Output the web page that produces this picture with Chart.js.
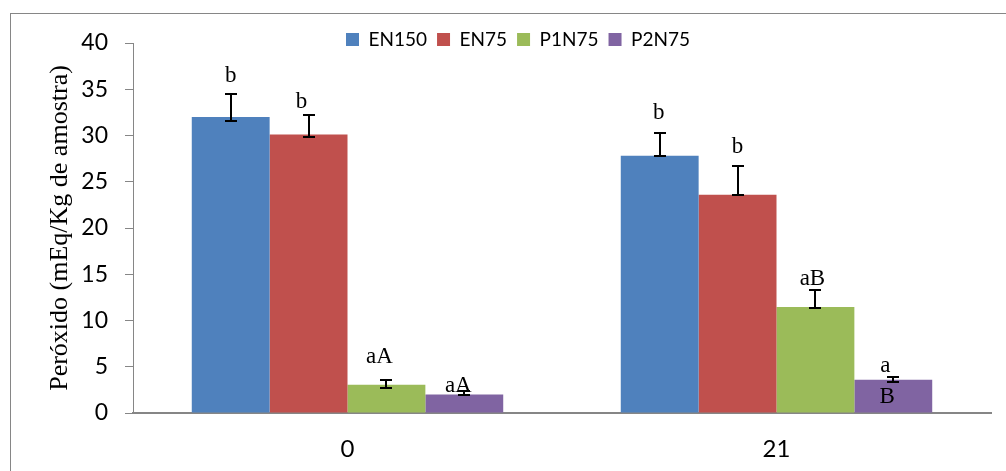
<!DOCTYPE html>
<html>
<head>
<meta charset="utf-8">
<script src="https://cdn.jsdelivr.net/npm/chart.js@4.4.0/dist/chart.umd.min.js"></script>
<style>
  body { margin: 0; background: #fff; }
  #wrap { position: relative; width: 1006px; height: 471px; overflow: hidden; }
  #frame { position: absolute; left: 10px; top: 13px; width: 1100px; height: 600px; border: 1px solid #868686; }
  #chart { position: absolute; left: 0; top: 0; }
</style>
</head>
<body>
<div id="wrap">
  <div id="frame"></div>
  <canvas id="chart" width="1006" height="471"></canvas>
</div>
<script>
// 数据
const days = ['0', '21'];
const seriesNames = ['EN150', 'EN75', 'P1N75', 'P2N75'];
const en150 = [32.0, 27.8];
const en75 = [30.1, 23.6];
const p1n75 = [3.05, 11.45];
const p2n75 = [2.0, 3.6];
// 误差线（上 / 下）
const errPlus = [[2.5, 2.45], [2.15, 3.1], [0.55, 1.85], [0.33, 0.3]];
const errMinus = [[0.4, 0.07], [0.22, 0.05], [0.3, 0.07], [0.1, 0.3]];
// 显著性字母
const letters = [['b', 'b'], ['b', 'b'], ['aA', 'aB'], ['aA', 'a']];
const extraLetters = [[null, null], [null, null], [null, null], [null, 'B']];
const yTicks = [0, 5, 10, 15, 20, 25, 30, 35, 40];

const colors = ['#4F81BD', '#C0504D', '#9BBB59', '#8064A2'];
// 字母位置偏移 [dx, dy]，相对于误差线顶端（像素）
const letterOffsets = [
  [[0, -12], [-1, -14]],
  [[-7, -7], [0, -13]],
  [[-7, -17], [-3, -5]],
  [[-6, 1], [-8, -5]]
];
const extraOffsets = [[null, null], [null, null], [null, null], [null, [-6, 26]]];

const values = [en150, en75, p1n75, p2n75];

// 误差线插件
const errorBars = {
  id: 'errorBars',
  afterDatasetsDraw(chart) {
    const ctx = chart.ctx;
    const y = chart.scales.y;
    ctx.save();
    ctx.strokeStyle = '#000';
    ctx.lineWidth = 2;
    chart.data.datasets.forEach((ds, i) => {
      const meta = chart.getDatasetMeta(i);
      meta.data.forEach((bar, j) => {
        const v = ds.data[j];
        const top = Math.round(y.getPixelForValue(v + errPlus[i][j]));
        const bot = Math.round(y.getPixelForValue(v - errMinus[i][j]));
        const x = Math.round(bar.x);
        ctx.beginPath();
        ctx.moveTo(x, top); ctx.lineTo(x, bot);
        ctx.moveTo(x - 6, top); ctx.lineTo(x + 6, top);
        ctx.moveTo(x - 6, bot); ctx.lineTo(x + 6, bot);
        ctx.stroke();
      });
    });
    ctx.restore();
  }
};

// 字母标注插件
const letterLabels = {
  id: 'letterLabels',
  afterDatasetsDraw(chart) {
    const ctx = chart.ctx;
    const y = chart.scales.y;
    ctx.save();
    ctx.fillStyle = '#000';
    ctx.font = '23px "Liberation Serif", "DejaVu Serif", serif';
    ctx.textAlign = 'center';
    ctx.textBaseline = 'alphabetic';
    chart.data.datasets.forEach((ds, i) => {
      const meta = chart.getDatasetMeta(i);
      meta.data.forEach((bar, j) => {
        const top = y.getPixelForValue(ds.data[j] + errPlus[i][j]);
        const [dx, dy] = letterOffsets[i][j];
        ctx.fillText(letters[i][j], bar.x + dx, top + dy);
        if (extraLetters[i][j]) {
          const [ex, ey] = extraOffsets[i][j];
          ctx.fillText(extraLetters[i][j], bar.x + ex, top + ey);
        }
      });
    });
    ctx.restore();
  }
};

// 图例高度固定，让图例与绘图区重叠（不裁剪）
const legendHeight = {
  id: 'legendHeight',
  beforeInit(chart) {
    const legend = chart.legend;
    const fit = legend.fit;
    legend.fit = function () {
      fit.call(this);
      this.height = 23;
    };
    legend.draw = function () {
      if (this.options.display) this._draw();
    };
  }
};

const tickFont = { family: 'Lato, "Liberation Sans", sans-serif' };

new Chart(document.getElementById('chart'), {
  type: 'bar',
  data: {
    labels: days,
    datasets: seriesNames.map((name, i) => ({
      label: name,
      data: values[i],
      backgroundColor: colors[i],
      borderWidth: 0,
      categoryPercentage: 0.726,
      barPercentage: 1.0
    }))
  },
  options: {
    responsive: false,
    animation: false,
    layout: { padding: { left: 45, right: 15, top: 20, bottom: 8 } },
    plugins: {
      legend: {
        position: 'top',
        labels: {
          boxWidth: 13,
          boxHeight: 13,
          padding: 10,
          color: '#000',
          font: { ...tickFont, size: 19 }
        }
      },
      tooltip: { enabled: false }
    },
    scales: {
      x: {
        grid: { display: false },
        border: { display: true, color: '#868686', width: 2 },
        afterFit(scale) {
          scale.height = 50;
        },
        ticks: { color: '#000', padding: 14, font: { ...tickFont, size: 24 } }
      },
      y: {
        min: 0,
        max: 40,
        afterBuildTicks(scale) {
          scale.ticks = yTicks.map(v => ({ value: v }));
        },
        afterFit(scale) {
          scale.width = 88;
        },
        grid: {
          drawOnChartArea: false,
          drawTicks: true,
          tickLength: 8,
          color: '#868686'
        },
        border: { display: true, color: '#868686', width: 1 },
        ticks: { color: '#000', padding: 17, font: { ...tickFont, size: 23 } },
        title: {
          display: true,
          text: 'Peróxido (mEq/Kg de amostra)',
          color: '#000',
          padding: { top: 0, bottom: 0 },
          font: { family: '"Liberation Serif", "DejaVu Serif", serif', size: 26 }
        }
      }
    }
  },
  plugins: [errorBars, letterLabels, legendHeight]
});
</script>
</body>
</html>
